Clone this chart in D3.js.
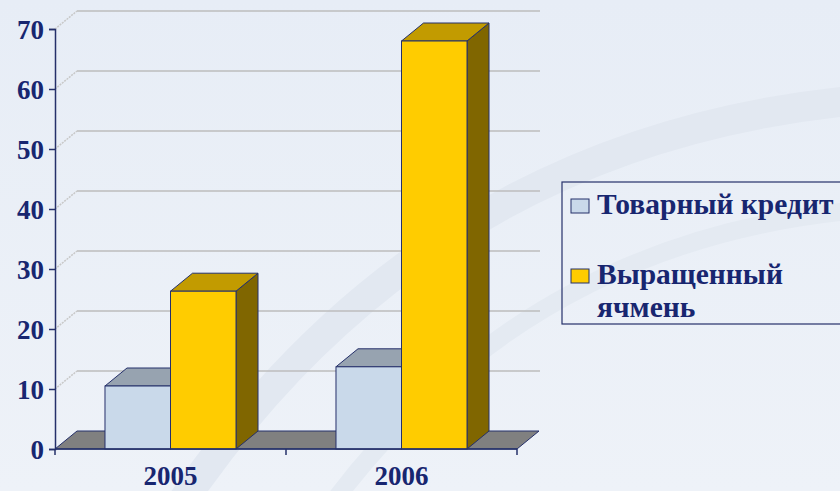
<!DOCTYPE html>
<html lang="ru">
<head>
<meta charset="utf-8">
<title>Товарный кредит и ячмень</title>
<script src="https://d3js.org/d3.v7.min.js"></script>
<style>
  body { margin: 0; overflow: hidden; }
  svg text { font-family: "Liberation Serif", "Times New Roman", serif; font-weight: bold; fill: #182670; }
</style>
</head>
<body>
<script>
// chart data
var years = ["2005", "2006"];
var seriesNames = ["Товарный кредит", "Выращенный ячмень"];
var credit = [10.5, 13.7];
var barley = [26.3, 68];
var yTicks = [0, 10, 20, 30, 40, 50, 60, 70];

var W = 840, H = 491;
var plotLeft = 55, plotRight = 517, plotBottom = 449, plotTop = 29;
var dx = 22, dy = -18;   // depth of the 3d box

var colors = [
  {front: "#c9d9ea", top: "#97a3b0", side: "#6f7f90"},
  {front: "#ffcc00", top: "#c29b00", side: "#806600"}
];
var edge = "#25306a";

var svg = d3.select("body").append("svg")
  .attr("width", W).attr("height", H);

// background
var defs = svg.append("defs");
var grad = defs.append("linearGradient").attr("id", "bg")
  .attr("x1", 0).attr("y1", 0).attr("x2", 0).attr("y2", 1);
grad.append("stop").attr("offset", "0%").attr("stop-color", "#e7edf6");
grad.append("stop").attr("offset", "100%").attr("stop-color", "#eef2f8");
svg.append("rect").attr("width", W).attr("height", H).attr("fill", "url(#bg)");

// faint watermark arcs
svg.append("path")
  .attr("d", "M170,520 Q420,140 860,100")
  .attr("fill", "none").attr("stroke", "#e2e8f1").attr("stroke-width", 30);
svg.append("path")
  .attr("d", "M320,520 Q520,240 860,210")
  .attr("fill", "none").attr("stroke", "#e4eaf2").attr("stroke-width", 18);

var y = d3.scaleLinear().domain([0, 70]).range([plotBottom, plotTop]);
var x = d3.scaleBand().domain(years).range([plotLeft, plotRight]);
var xs = d3.scaleBand().domain(seriesNames).range([0, x.bandwidth()]).paddingOuter(0.763);

// floor
svg.append("path")
  .attr("d", "M" + plotLeft + "," + plotBottom + "L" + (plotLeft + dx) + "," + (plotBottom + dy) +
    "L" + (plotRight + dx) + "," + (plotBottom + dy) + "L" + plotRight + "," + plotBottom + "Z")
  .attr("fill", "#808080").attr("stroke", edge).attr("stroke-width", 1);

// gridlines on back wall
var grid = svg.append("g");
yTicks.slice(1).forEach(function(t) {
  grid.append("line")
    .attr("x1", plotLeft + dx).attr("x2", plotRight + dx + 1)
    .attr("y1", y(t) + dy).attr("y2", y(t) + dy)
    .attr("stroke", "#bcbcbc").attr("stroke-width", 1.5);
  grid.append("line")
    .attr("x1", plotLeft).attr("x2", plotLeft + dx)
    .attr("y1", y(t)).attr("y2", y(t) + dy)
    .attr("stroke", "#c8c8c8").attr("stroke-width", 1.5).attr("stroke-dasharray", "2,1");
});

// bars
function box(g, x0, w, v, c) {
  var yt = y(v);
  g.append("path") // side
    .attr("d", "M" + (x0 + w) + "," + plotBottom + "L" + (x0 + w + dx) + "," + (plotBottom + dy) +
      "L" + (x0 + w + dx) + "," + (yt + dy) + "L" + (x0 + w) + "," + yt + "Z")
    .attr("fill", c.side).attr("stroke", edge).attr("stroke-width", 1);
  g.append("path") // top
    .attr("d", "M" + x0 + "," + yt + "L" + (x0 + dx) + "," + (yt + dy) +
      "L" + (x0 + w + dx) + "," + (yt + dy) + "L" + (x0 + w) + "," + yt + "Z")
    .attr("fill", c.top).attr("stroke", edge).attr("stroke-width", 1);
  g.append("rect") // front
    .attr("x", x0).attr("y", yt).attr("width", w).attr("height", plotBottom - yt)
    .attr("fill", c.front).attr("stroke", edge).attr("stroke-width", 1);
}

var bars = svg.append("g");
years.forEach(function(yr, i) {
  var vals = [credit[i], barley[i]];
  seriesNames.forEach(function(s, j) {
    box(bars, x(yr) + xs(s), xs.bandwidth(), vals[j], colors[j]);
  });
});

// y axis
var yAxis = svg.append("g").attr("transform", "translate(" + plotLeft + ",0)")
  .call(d3.axisLeft(y).tickValues(yTicks).tickSize(6).tickPadding(5).tickFormat(d3.format("d")));
yAxis.select(".domain").attr("stroke", edge).attr("stroke-width", 1.5);
yAxis.selectAll(".tick line").attr("stroke", edge).attr("stroke-width", 1.5);
yAxis.selectAll("text").style("font-size", "27px").attr("dy", "0.35em");

// x axis
var xAxis = svg.append("g").attr("transform", "translate(0," + plotBottom + ")");
xAxis.append("line").attr("x1", plotLeft).attr("x2", plotRight)
  .attr("stroke", edge).attr("stroke-width", 1.5);
[plotLeft].concat(years.map(function(d) { return x(d) + x.bandwidth(); })).forEach(function(t) {
  xAxis.append("line").attr("x1", t).attr("x2", t).attr("y1", 0).attr("y2", 6)
    .attr("stroke", edge).attr("stroke-width", 1.5);
});
xAxis.selectAll("text.cat").data(years).enter().append("text")
  .attr("class", "cat")
  .attr("x", function(d) { return x(d) + x.bandwidth() / 2; })
  .attr("y", 36)
  .attr("text-anchor", "middle")
  .style("font-size", "27px")
  .text(function(d) { return d; });

// legend
var lg = svg.append("g");
lg.append("rect").attr("x", 562).attr("y", 182).attr("width", 300).attr("height", 142)
  .attr("fill", "none").attr("stroke", edge).attr("stroke-width", 1.2);
var legendLines = [["Товарный кредит"], ["Выращенный", "ячмень"]];
var legendY = [214, 284];
legendLines.forEach(function(lines, j) {
  lg.append("rect").attr("x", 571).attr("y", legendY[j] - 15).attr("width", 18).attr("height", 14)
    .attr("fill", colors[j].front).attr("stroke", edge).attr("stroke-width", 1);
  lines.forEach(function(t, k) {
    lg.append("text").attr("x", 597).attr("y", legendY[j] + k * 33)
      .style("font-size", "29.5px").text(t);
  });
});
</script>
</body>
</html>
